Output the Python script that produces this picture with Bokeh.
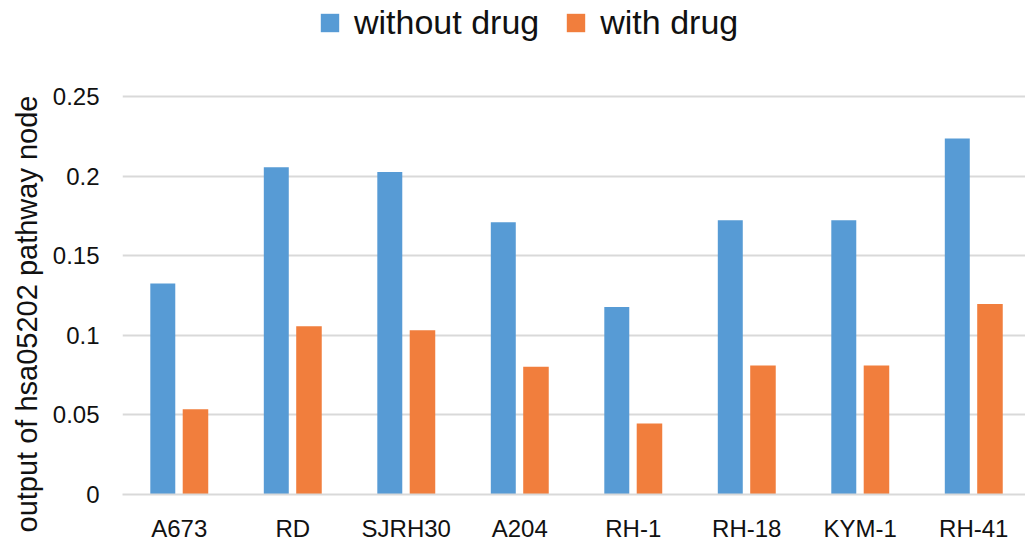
from bokeh.plotting import figure
from bokeh.models import ColumnDataSource, Legend, LegendItem, FixedTicker, Range1d, Title
from bokeh.transform import dodge
from bokeh.embed import file_html
from bokeh.resources import INLINE

categories = ["A673", "RD", "SJRH30", "A204", "RH-1", "RH-18", "KYM-1", "RH-41"]
without_drug = [0.1325, 0.2056, 0.2025, 0.1710, 0.1178, 0.1723, 0.1723, 0.2236]
with_drug = [0.0536, 0.1057, 0.1032, 0.0803, 0.0446, 0.0810, 0.0810, 0.1197]
y_ticks = [0, 0.05, 0.1, 0.15, 0.2, 0.25]
y_tick_labels = ["0", "0.05", "0.1", "0.15", "0.2", "0.25"]
series_names = ["without drug", "with drug"]
y_title = "output of hsa05202 pathway node"

BLUE = "#579BD5"
ORANGE = "#F17E3D"
FONT = "Liberation Sans"

xs = list(range(len(categories)))
src = ColumnDataSource(dict(x=xs, a=without_drug, b=with_drug))

FRAME_H = 494
p = figure(width=1025, height=538, output_backend="svg", toolbar_location=None,
           x_range=Range1d(-0.5, 7.456), y_range=Range1d(0, FRAME_H / 1592.0),
           frame_width=903, frame_height=FRAME_H,
           min_border_left=122, min_border_right=0, min_border_top=0,
           min_border_bottom=44)
p.outline_line_color = None
p.background_fill_color = "white"
p.border_fill_color = "white"

r1 = p.vbar(x=dodge("x", -0.145, range=p.x_range), top="a", width=0.22, source=src,
            fill_color=BLUE, line_color=None)
r2 = p.vbar(x=dodge("x", 0.143, range=p.x_range), top="b", width=0.225, source=src,
            fill_color=ORANGE, line_color=None)

# axes
p.xaxis.ticker = FixedTicker(ticks=xs)
p.xaxis.major_label_overrides = {i: c for i, c in enumerate(categories)}
p.yaxis.ticker = FixedTicker(ticks=y_ticks)
p.yaxis.major_label_overrides = {t: l for t, l in zip(y_ticks, y_tick_labels)}

for ax in (p.xaxis[0], p.yaxis[0]):
    ax.major_tick_line_color = None
    ax.minor_tick_line_color = None
    ax.major_label_text_font = FONT
    ax.major_label_text_font_size = "24px"
    ax.major_label_text_color = "#111111"

p.yaxis.axis_line_color = None
p.xaxis.axis_line_color = "#D9D9D9"
p.xaxis.axis_line_width = 2
p.yaxis.major_label_standoff = 17
p.xaxis.major_label_standoff = 14

ytitle = Title(text=y_title, align="left", offset=-38,
               text_font=FONT, text_font_size="29px", text_font_style="normal",
               text_color="#111111", standoff=14)
p.add_layout(ytitle, "left")

p.xgrid.grid_line_color = None
p.ygrid.grid_line_color = "#D9D9D9"
p.ygrid.grid_line_width = 2
p.ygrid.ticker = FixedTicker(ticks=y_ticks)

legend = Legend(items=[LegendItem(label=series_names[0], renderers=[r1]),
                       LegendItem(label=series_names[1], renderers=[r2])],
                orientation="horizontal", location=(196, FRAME_H - 42),
                label_text_font=FONT, label_text_font_size="34px",
                label_text_color="#111111",
                glyph_width=23, glyph_height=23, spacing=25, label_standoff=13,
                border_line_color=None, background_fill_alpha=0, margin=0, padding=0)
p.add_layout(legend)

open("out.html", "w").write(file_html(p, INLINE))
